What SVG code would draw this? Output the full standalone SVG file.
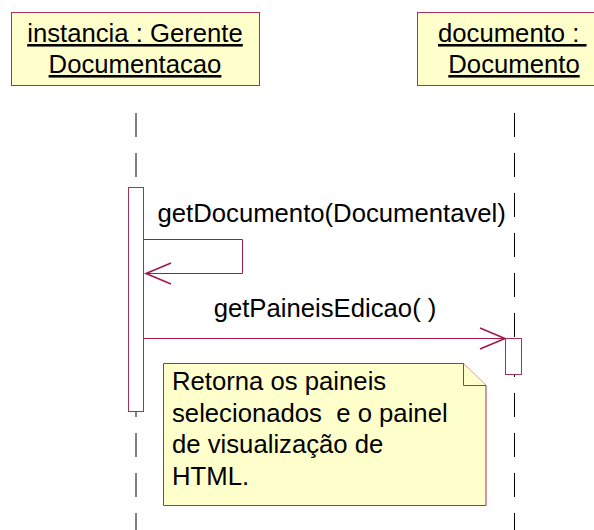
<svg xmlns="http://www.w3.org/2000/svg" width="594" height="530" viewBox="0 0 594 530">
<style>
.box{fill:#ffffcc;stroke:#a8305a;stroke-width:1}
.act{fill:#ffffff;stroke:#a8305a;stroke-width:1}
.life{stroke:#000;stroke-width:1;stroke-dasharray:24 16;fill:none}
.msg{fill:none;stroke:#a01a4a;stroke-width:1}
.head{fill:none;stroke:#a01a4a;stroke-width:1.6;stroke-linejoin:miter}
text{font-family:"Liberation Sans",Arial,sans-serif;font-size:25.7px;fill:#000}
.u{text-decoration:underline}
</style>
<rect width="594" height="530" fill="#ffffff"/>
<g id="lifelines">
<line class="life" x1="136" y1="113" x2="136" y2="530"/>
<line class="life" x1="514.5" y1="113" x2="514.5" y2="530"/>
</g>
<g id="instancia">
<rect class="box" x="11.5" y="12.5" width="248" height="73"/>
<text class="u" x="135" y="42" text-anchor="middle">instancia : Gerente</text>
<text class="u" x="135" y="73" text-anchor="middle">Documentacao</text>
</g>
<g id="documento">
<rect class="box" x="417.5" y="12.5" width="194" height="73"/>
<text class="u" x="438" y="42" xml:space="preserve" style="white-space:pre">documento : </text>
<text class="u" x="514" y="73" text-anchor="middle">Documento</text>
</g>
<g id="activation-instancia">
<rect class="act" x="128.5" y="187.5" width="15" height="224"/>
</g>
<g id="activation-documento">
<rect class="act" x="505.5" y="338.5" width="16" height="36"/>
</g>
<g id="connectors">
<path class="msg" d="M144,239.5 H242.5 V273.5 H146"/>
<path class="head" d="M171,263 L146,273.5 L171,284"/>
<text x="157.5" y="222">getDocumento(Documentavel)</text>
<path class="msg" d="M144,338.5 H505"/>
<path class="head" d="M480,328 L505,338.5 L480,349"/>
<text x="325" y="317" text-anchor="middle">getPaineisEdicao( )</text>
</g>
<g id="note">
<path class="box" d="M163.5,363.5 H463.5 L486,385.5 V505.5 H163.5 Z"/>
<path class="box" d="M463.5,363.5 V385.5 H486"/>
<text x="172" y="389.5">Retorna os paineis</text>
<text x="172" y="421.5" xml:space="preserve" style="white-space:pre">selecionados  e o painel</text>
<text x="172" y="453">de visualização de</text>
<text x="172" y="485">HTML.</text>
</g>
</svg>
